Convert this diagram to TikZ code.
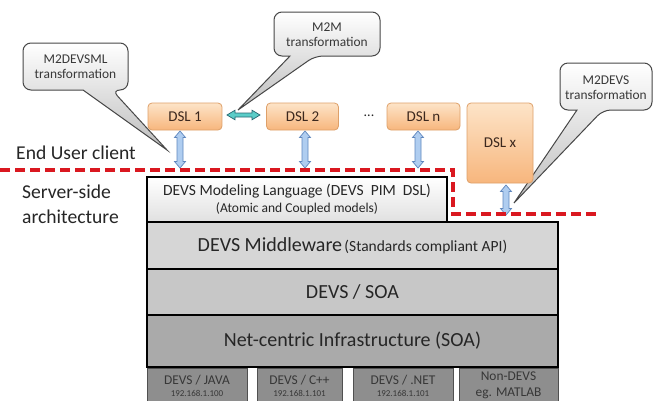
\documentclass[tikz,border=0pt]{standalone}
\usepackage{fontspec}
\setmainfont{Carlito}
\usetikzlibrary{calc}
\definecolor{txt}{RGB}{38,38,38}
\definecolor{dslborder}{RGB}{222,160,105}
\definecolor{dsltop}{RGB}{253,228,200}
\definecolor{dslbot}{RGB}{247,182,125}
\definecolor{dsltxt}{RGB}{60,40,30}
\definecolor{mwfill}{RGB}{214,214,214}
\definecolor{soafill}{RGB}{199,199,199}
\definecolor{netfill}{RGB}{170,170,170}
\definecolor{botfill}{RGB}{142,142,142}
\definecolor{botborder}{RGB}{80,80,80}
\definecolor{bottxt}{RGB}{55,55,55}
\definecolor{bluefill}{RGB}{175,205,240}
\definecolor{blueline}{RGB}{95,135,190}
\definecolor{cyanfill}{RGB}{90,205,200}
\definecolor{cyanline}{RGB}{40,105,115}
\definecolor{reddash}{RGB}{218,24,32}
\tikzset{
  callout/.style={draw=black!72, line width=1pt, top color=white, bottom color=black!26, rounded corners=8pt},
  calltext/.style={font=\fontsize{13.4}{15}\selectfont, text=black!78, align=center},
  dsl/.style={draw=dslborder, line width=0.8pt, rounded corners=4pt, top color=dsltop, bottom color=dslbot,
    font=\fontsize{15}{17}\selectfont, text=dsltxt, inner sep=0pt},
  layer/.style={draw=black, line width=1.6pt, inner sep=0pt, text=txt},
  botbox/.style={draw=botborder, line width=1pt, fill=botfill, inner sep=0pt, text=bottxt, align=center,
    minimum height=34pt, anchor=north},
  vblockstyle/.style={draw=blueline, fill=bluefill, line width=0.7pt, line join=miter},
  hblockstyle/.style={draw=cyanline, fill=cyanfill, line width=0.7pt, line join=miter},
  sidelabel/.style={font=\fontsize{19.6}{25}\selectfont, text=txt, align=left, anchor=west, inner sep=0pt},
  border/.style={reddash, line width=3.2pt, dash pattern=on 10pt off 5pt}
}
% vertical double block arrow from #1 (top) to #2 (bottom)
\newcommand\vblock[2]{\path[vblockstyle] (#1) -- ($(#1)+(5.5,6.5)$) -- ($(#1)+(3,6.5)$) -- ($(#2)+(3,-6.5)$) -- ($(#2)+(5.5,-6.5)$) -- (#2) -- ($(#2)+(-5.5,-6.5)$) -- ($(#2)+(-3,-6.5)$) -- ($(#1)+(-3,6.5)$) -- ($(#1)+(-5.5,6.5)$) -- cycle;}
% horizontal double block arrow from #1 (left) to #2 (right)
\newcommand\hblock[2]{\path[hblockstyle] (#1) -- ($(#1)+(8,-4.8)$) -- ($(#1)+(8,-2)$) -- ($(#2)+(-8,-2)$) -- ($(#2)+(-8,-4.8)$) -- (#2) -- ($(#2)+(-8,4.8)$) -- ($(#2)+(-8,2)$) -- ($(#1)+(8,2)$) -- ($(#1)+(8,4.8)$) -- cycle;}
\begin{document}
\begin{tikzpicture}[x=1pt,y=-1pt]
\useasboundingbox (0,0) rectangle (654,400);
\fill[white] (0,0) rectangle (654,400);

% callouts
\path[callout] (75,43) -- (128,43) -- (128,90) -- (112,90) [sharp corners] -- (167,150) -- (83,90) -- (60,90) [rounded corners=8pt] -- (23,90) -- (23,43) -- cycle;
\node[calltext] (c1) at (75.5,67) {M2DEVSML\\transformation};
\path[callout] (330,12) -- (380,12) -- (380,56) -- (315,56) [sharp corners] -- (238,110) -- (290,56) -- (285,56) [rounded corners=8pt] -- (274,56) -- (274,12) -- cycle;
\node[calltext] (c2) at (327,34.5) {M2M\\transformation};
\path[callout] (600,63) -- (652,63) -- (652,110) -- (603,110) [sharp corners] -- (514,203) -- (577,110) -- (570,110) [rounded corners=8pt] -- (560,110) -- (560,63) -- cycle;
\node[calltext] (c3) at (606,87.5) {M2DEVS\\transformation};

% DSL boxes
\node[dsl, minimum width=74pt, minimum height=27pt] (dsl1) at (185,116.5) {DSL 1};
\node[dsl, minimum width=72pt, minimum height=27pt] (dsl2) at (302.5,116.5) {DSL 2};
\node[font=\fontsize{14}{15}\selectfont, text=txt] (dots) at (369,116) {...};
\node[dsl, minimum width=73pt, minimum height=27pt] (dsln) at (423.5,116.5) {DSL n};
\node[dsl, minimum width=66pt, minimum height=80pt] (dslx) at (500,143) {DSL x};

\coordinate (m2ml) at (227,115);
\coordinate (m2mr) at (260,115);
\hblock{m2ml}{m2mr}

% labels
\node[sidelabel] (client) at (16,153) {End User client};
\node[sidelabel] (server) at (22,204.5) {Server-side\\architecture};

% layered stack
\node[layer, top color=white, bottom color=black!12, minimum width=300pt, minimum height=45pt, align=center, font=\fontsize{15.5}{17}\selectfont] (ml) at (297,199.5)
  {DEVS Modeling Language (DEVS\ \ PIM\ \ DSL)\\[0pt]\fontsize{13.5}{14}\selectfont (Atomic and Coupled models)};
\node[layer, fill=mwfill, minimum width=411pt, minimum height=47pt] (mw) at (352.5,245.5)
  {{\fontsize{20}{22}\selectfont DEVS Middleware} {\fontsize{15.5}{17}\selectfont (Standards compliant API)}};
\node[layer, fill=soafill, minimum width=411pt, minimum height=46pt, font=\fontsize{20}{22}\selectfont] (soa) at (352.5,292) {DEVS / SOA};
\node[layer, fill=netfill, minimum width=411pt, minimum height=52pt, font=\fontsize{20}{22}\selectfont] (net) at (352.5,341) {Net-centric Infrastructure (SOA)};

\node[botbox, minimum width=100pt, font=\fontsize{13.4}{13}\selectfont] (java) at (197,368) {DEVS / JAVA\\[-1pt]\fontsize{9}{9}\selectfont 192.168.1.100};
\node[botbox, minimum width=85pt, font=\fontsize{13.4}{13}\selectfont] (cpp) at (299.5,368) {DEVS / C++\\[-1pt]\fontsize{9}{9}\selectfont 192.168.1.101};
\node[botbox, minimum width=100pt, font=\fontsize{13.4}{13}\selectfont] (dotnet) at (403,368) {DEVS / .NET\\[-1pt]\fontsize{9}{9}\selectfont 192.168.1.101};
\node[botbox, minimum width=99pt, font=\fontsize{13.4}{16}\selectfont] (matlab) at (508.5,368) {Non-DEVS\\eg. MATLAB};

% vertical block arrows
\coordinate (a1t) at (180,131); \coordinate (a1b) at (180,168);
\coordinate (a2t) at (305,131); \coordinate (a2b) at (305,168);
\coordinate (ant) at (418,131); \coordinate (anb) at (418,168);
\coordinate (axt) at (506,185); \coordinate (axb) at (506,215);
\vblock{a1t}{a1b}
\vblock{a2t}{a2b}
\vblock{ant}{anb}
\vblock{axt}{axb}

% client / server border
\coordinate (r0) at (0,170);
\coordinate (r1) at (453,170);
\coordinate (r2) at (453,214);
\coordinate (r3) at (598,214);
\draw[border] (r0) -- (r1) -- (r2) -- (r3);
\end{tikzpicture}
\end{document}
